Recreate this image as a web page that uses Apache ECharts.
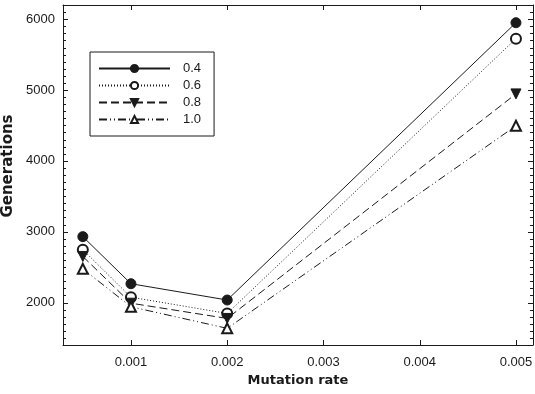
<!DOCTYPE html>
<html><head><meta charset="utf-8">
<script src="https://cdn.jsdelivr.net/npm/echarts@6/dist/echarts.min.js"></script>
<style>html,body{margin:0;padding:0;background:#fff}#c{width:535px;height:394px}</style>
</head><body><div id="c"></div>
<script>
const mutationRates = [0.0005, 0.001, 0.002, 0.005];
const seriesNames = ['0.4', '0.6', '0.8', '1.0'];
const gen04 = [2930, 2265, 2035, 5950];
const gen06 = [2745, 2075, 1845, 5725];
const gen08 = [2650, 1990, 1775, 4945];
const gen10 = [2475, 1940, 1635, 4495];
const xTicks = [0.001, 0.002, 0.003, 0.004, 0.005];
const yTicks = [2000, 3000, 4000, 5000, 6000];
const yMinorTicks = [];
for (let v = 1500; v <= 6100; v += 100) { if (v % 1000 !== 0) yMinorTicks.push(v); }

const X_MIN = 0.000294, X_MAX = 0.005177, Y_MIN = 1400, Y_MAX = 6200;
const C = '#1a1a1a';
const font = "'Liberation Sans', Arial, sans-serif";
const titleFont = "'DejaVu Sans', sans-serif";
const chart = echarts.init(document.getElementById('c'));
const toPairs = arr => arr.map((v, i) => [mutationRates[i], v]);

function mkSeries(name, data, symbol, lineType, rotate) {
  return {
    name, type: 'line', data: toPairs(data),
    symbol, symbolSize: 10, symbolRotate: rotate || 0,
    showAllSymbol: true,
    lineStyle: { color: C, width: 1, type: lineType },
    itemStyle: { color: C, borderColor: C, borderWidth: 1 },
    emphasis: { disabled: true }, z: 5
  };
}

// tick marks: [side (0 left,1 right,2 bottom,3 top), value, length]
const tickItems = [];
yTicks.forEach(v => { tickItems.push([0, v, 5]); tickItems.push([1, v, 5]); });
yMinorTicks.forEach(v => { tickItems.push([0, v, 3]); tickItems.push([1, v, 3]); });
xTicks.forEach(v => { tickItems.push([2, v, 5]); tickItems.push([3, v, 5]); });

function renderTick(params, api) {
  const side = api.value(0), v = api.value(1), len = api.value(2);
  let x1, y1, x2, y2;
  if (side === 0 || side === 1) {
    const p = api.coord([side === 0 ? X_MIN : X_MAX, v]);
    const y = Math.round(p[1]) + 0.5;
    x1 = p[0]; y1 = y; y2 = y; x2 = side === 0 ? p[0] + len : p[0] - len;
  } else {
    const p = api.coord([v, side === 2 ? Y_MIN : Y_MAX]);
    const x = Math.round(p[0]) + 0.5;
    x1 = x; x2 = x; y1 = p[1]; y2 = side === 2 ? p[1] - len : p[1] + len;
  }
  return { type: 'line', shape: { x1, y1, x2, y2 }, style: { stroke: C, lineWidth: 1 }, silent: true };
}

chart.setOption({
  animation: false,
  backgroundColor: '#fff',
  grid: { left: 63, right: 2, top: 5, bottom: 49, outerBoundsMode: 'none', containLabel: false },
  legend: {
    data: seriesNames, orient: 'vertical', left: 90, top: 52,
    itemWidth: 71, itemHeight: 9, itemGap: 4,
    padding: [10, 13, 10, 8],
    borderColor: C, borderWidth: 1,
    textStyle: { fontFamily: font, fontSize: 13, color: C, padding: [0, 0, 0, 8] },
    selectedMode: false
  },
  xAxis: [
    { type: 'value', min: X_MIN, max: X_MAX, position: 'bottom', splitLine: { show: false },
      axisLine: { show: true, lineStyle: { color: C, width: 1 } },
      axisTick: { show: false },
      axisLabel: { customValues: xTicks, margin: 11, fontFamily: font, fontSize: 13, color: C,
        formatter: v => v.toFixed(3) },
      name: 'Mutation rate', nameLocation: 'middle', nameGap: 28,
      nameTextStyle: { fontFamily: titleFont, fontSize: 13, fontWeight: 'bold', color: C } },
    { type: 'value', min: X_MIN, max: X_MAX, position: 'top', splitLine: { show: false },
      axisLine: { show: true, lineStyle: { color: C, width: 1 } },
      axisTick: { show: false }, axisLabel: { show: false } }
  ],
  yAxis: [
    { type: 'value', min: Y_MIN, max: Y_MAX, position: 'left', splitLine: { show: false },
      axisLine: { show: true, lineStyle: { color: C, width: 1 } },
      axisTick: { show: false },
      axisLabel: { customValues: yTicks, margin: 8, fontFamily: font, fontSize: 13, color: C,
        formatter: v => String(v) },
      name: 'Generations', nameLocation: 'middle', nameGap: 41,
      nameTextStyle: { fontFamily: titleFont, fontSize: 15, fontWeight: 'bold', color: C,
        padding: [0, 0, 0, 18] } },
    { type: 'value', min: Y_MIN, max: Y_MAX, position: 'right', splitLine: { show: false },
      axisLine: { show: true, lineStyle: { color: C, width: 1 } },
      axisTick: { show: false }, axisLabel: { show: false } }
  ],
  series: [
    mkSeries(seriesNames[0], gen04, 'circle', 'solid'),
    mkSeries(seriesNames[1], gen06, 'emptyCircle', [1, 2]),
    mkSeries(seriesNames[2], gen08, 'triangle', [8, 4], 180),
    mkSeries(seriesNames[3], gen10, 'emptyTriangle', [8, 3, 1, 3, 1, 3]),
    { type: 'custom', name: 'ticks', data: tickItems, renderItem: renderTick,
      encode: { x: -1, y: -1 }, silent: true, z: 10, clip: false, legendHoverLink: false }
  ]
});
</script></body></html>
